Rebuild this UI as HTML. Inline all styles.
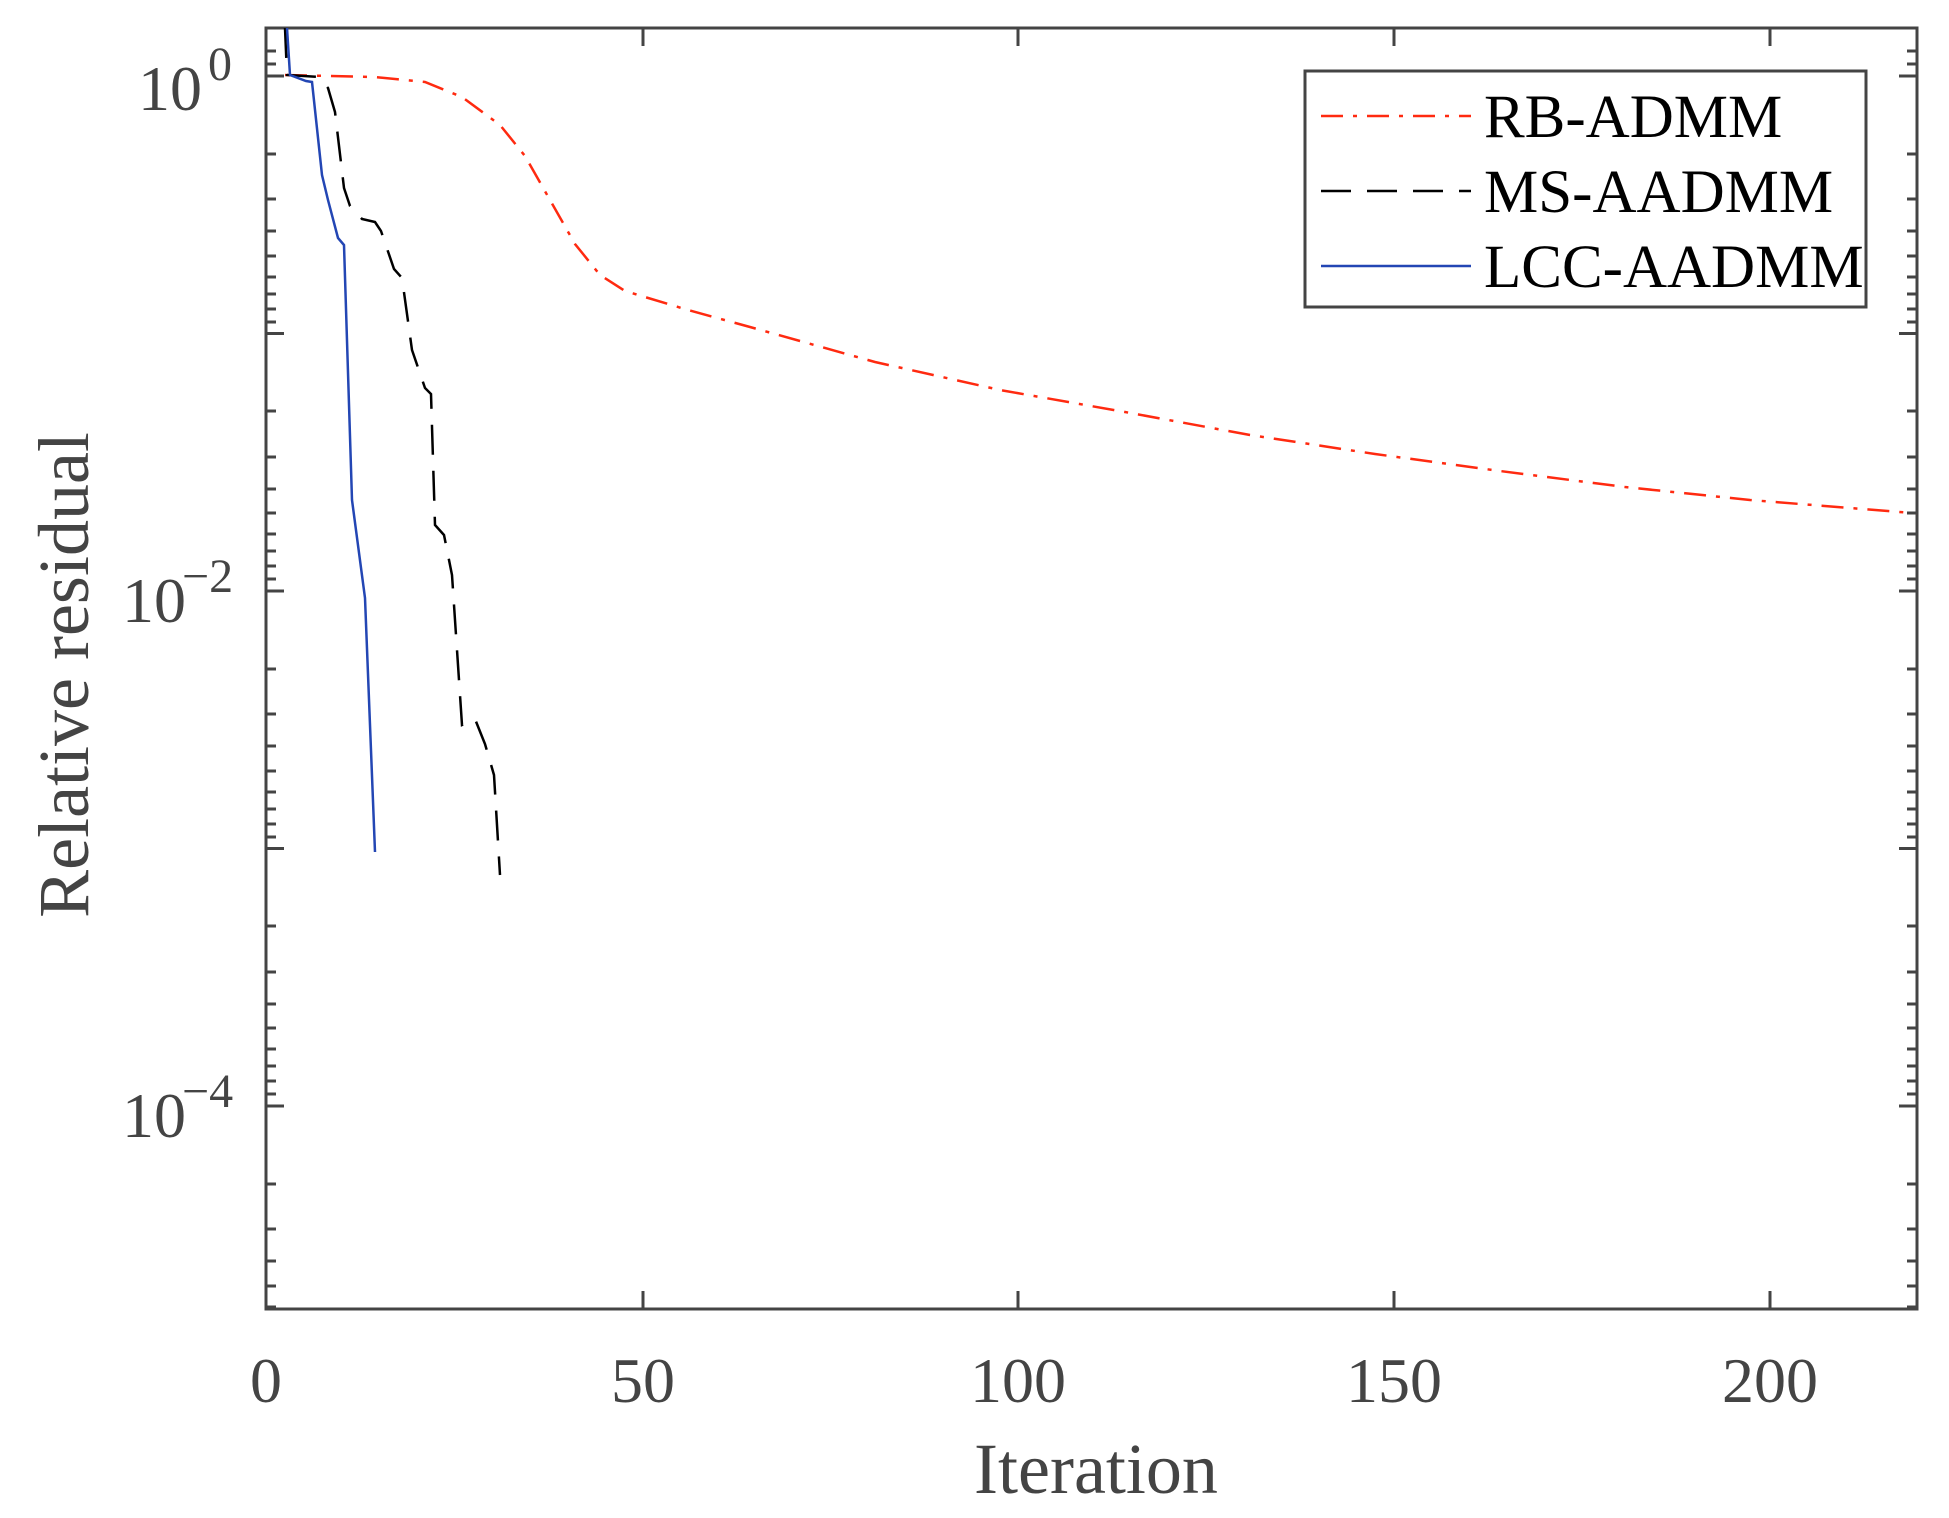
<!DOCTYPE html>
<html><head><meta charset="utf-8"><style>
html,body{margin:0;padding:0;background:#fff;}
svg{display:block;font-family:"Liberation Serif",serif;}
</style></head><body>
<svg width="1949" height="1518" viewBox="0 0 1949 1518" xmlns="http://www.w3.org/2000/svg">
<defs><clipPath id="c"><rect x="266" y="28" width="1651" height="1281"/></clipPath></defs>
<g stroke="#444" stroke-width="3" fill="none">
<rect x="266" y="28" width="1651" height="1281"/>
<path d="M266 1309v-18M643 1309v-18M1018 1309v-18M1394 1309v-18M1770 1309v-18M266 28v18M643 28v18M1018 28v18M1394 28v18M1770 28v18"/>
<path d="M266 76h18M266 333.5h18M266 591h18M266 848.5h18M266 1106h18M1917 76h-18M1917 333.5h-18M1917 591h-18M1917 848.5h-18M1917 1106h-18"/>
</g>
<g clip-path="url(#c)" fill="none" stroke-width="2.5">
<polyline stroke="#ff2a10" stroke-dasharray="22,10,4,10" points="285,75 375,77 425,82 462,97 500,125 525,156 550,200 575,244 600,275 625,291 688,310 750,327 875,362 1000,390 1125,412 1250,435 1375,454 1500,471 1625,487 1750,500 1925,514"/>
<polyline stroke="#000" stroke-dasharray="30,16" points="285,28 287,75 319,77 328,88 335,112 344,188 350,206 362,219 375,222 381,231 394,269 402,278 412,350 425,388 431,394 435,525 444,535 452,575 462,725 475,719 485,744 494,775 500,875"/>
<polyline stroke="#2346b4" points="287,28 290,75 306,81 312,82 322,175 328,200 338,238 344,245 352,500 365,598 375,852"/>
</g>
<g fill="#444" font-size="64">
<text x="266" y="1402" text-anchor="middle">0</text>
<text x="643" y="1402" text-anchor="middle">50</text>
<text x="1018" y="1402" text-anchor="middle">100</text>
<text x="1394" y="1402" text-anchor="middle">150</text>
<text x="1770" y="1402" text-anchor="middle">200</text>
<text x="138" y="110">10</text><text x="208" y="80" font-size="48">0</text>
<text x="122" y="622">10</text><text x="182" y="592" font-size="48">−2</text>
<text x="122" y="1137">10</text><text x="182" y="1107" font-size="48">−4</text>
<text x="1096" y="1493" text-anchor="middle" font-size="72">Iteration</text>
<text transform="translate(88,675) rotate(-90)" text-anchor="middle" font-size="72">Relative residual</text>
</g>
<rect x="1305" y="71" width="561" height="236" fill="#fff" stroke="#444" stroke-width="3"/>
<g stroke-width="2.5">
<line x1="1321" y1="116" x2="1471" y2="116" stroke="#ff2a10" stroke-dasharray="22,10,4,10"/>
<line x1="1321" y1="191" x2="1471" y2="191" stroke="#000" stroke-dasharray="30,16"/>
<line x1="1321" y1="266" x2="1471" y2="266" stroke="#2346b4"/>
</g>
<g fill="#000" font-size="61">
<text x="1484" y="137">RB-ADMM</text>
<text x="1484" y="212">MS-AADMM</text>
<text x="1484" y="287">LCC-AADMM</text>
</g>
<g stroke="#444" stroke-width="3">
<path d="
M266 154h10M266 199h10M266 231h10M266 256h10M266 277h10M266 294h10M266 309h10M266 322h10
M266 411h10M266 457h10M266 489h10M266 513h10M266 534h10M266 551h10M266 566h10M266 579h10
M266 669h10M266 714h10M266 746h10M266 771h10M266 792h10M266 809h10M266 824h10M266 837h10
M266 926h10M266 972h10M266 1004h10M266 1028h10M266 1049h10M266 1066h10M266 1081h10M266 1094h10
M266 1184h10M266 1229h10M266 1261h10M266 1286h10M266 1307h10
M266 51h10M266 64h10
M1917 154h-10M1917 199h-10M1917 231h-10M1917 256h-10M1917 277h-10M1917 294h-10M1917 309h-10M1917 322h-10
M1917 411h-10M1917 457h-10M1917 489h-10M1917 513h-10M1917 534h-10M1917 551h-10M1917 566h-10M1917 579h-10
M1917 669h-10M1917 714h-10M1917 746h-10M1917 771h-10M1917 792h-10M1917 809h-10M1917 824h-10M1917 837h-10
M1917 926h-10M1917 972h-10M1917 1004h-10M1917 1028h-10M1917 1049h-10M1917 1066h-10M1917 1081h-10M1917 1094h-10
M1917 1184h-10M1917 1229h-10M1917 1261h-10M1917 1286h-10M1917 1307h-10
M1917 51h-10M1917 64h-10"/>
</g>
</svg>
</body></html>
